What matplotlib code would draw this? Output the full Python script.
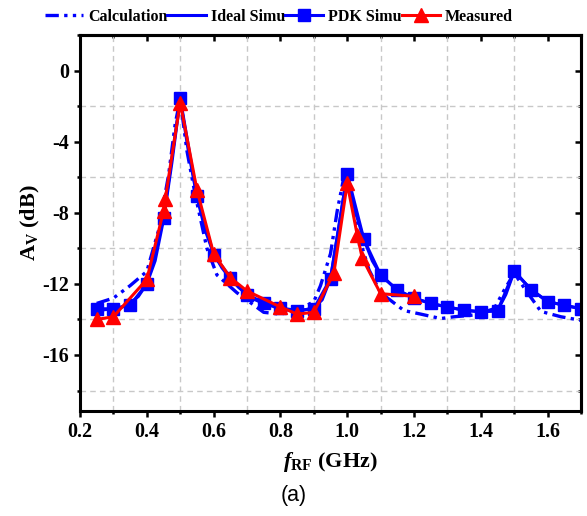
import matplotlib
matplotlib.use('Agg')
import matplotlib.pyplot as plt
from matplotlib.ticker import MultipleLocator

# data
calc_f = [0.25, 0.30, 0.35, 0.40, 0.435, 0.465, 0.485, 0.50, 0.52, 0.545, 0.58, 0.61, 0.67,
          0.75, 0.80, 0.85, 0.90, 0.92, 0.95, 0.97, 0.99, 1.00, 1.035, 1.065, 1.10, 1.17,
          1.22, 1.28, 1.32, 1.38, 1.44, 1.47, 1.50, 1.54, 1.58, 1.64, 1.70]
calc_av = [-13.1, -12.8, -12.1, -11.3, -9.0, -5.9, -3.0, -1.6, -4.5, -7.0, -10.0, -11.5, -12.5,
           -13.6, -13.7, -13.5, -13.0, -12.1, -10.3, -7.9, -6.0, -5.8, -9.35, -11.2, -12.5, -13.5,
           -13.7, -13.95, -13.85, -13.75, -13.4, -12.35, -11.4, -12.5, -13.55, -13.85, -14.05]

ideal_f = [0.25, 0.275, 0.30, 0.325, 0.35, 0.375, 0.40, 0.425, 0.45, 0.475, 0.50, 0.525, 0.55,
           0.575, 0.60, 0.625, 0.65, 0.675, 0.70, 0.725, 0.75, 0.80, 0.85, 0.90, 0.925, 0.95,
           0.975, 1.00, 1.025, 1.05, 1.075, 1.10, 1.15, 1.20, 1.25, 1.30, 1.35, 1.40, 1.45,
           1.475, 1.50, 1.525, 1.55, 1.60, 1.65, 1.70]
ideal_av = [-13.5, -13.45, -13.4, -13.3, -13.1, -12.7, -12.0, -10.7, -8.4, -5.2, -1.6, -4.6, -7.1,
            -9.0, -10.3, -11.1, -11.7, -12.2, -12.6, -12.9, -13.1, -13.4, -13.55, -13.35, -12.9, -11.7,
            -8.8, -5.8, -8.0, -9.5, -10.7, -11.5, -12.35, -12.8, -13.1, -13.3, -13.48, -13.57, -13.5,
            -12.6, -11.3, -11.8, -12.3, -13.0, -13.2, -13.4]

pdk_f = [0.25, 0.30, 0.35, 0.40, 0.45, 0.50, 0.55, 0.60, 0.65, 0.70, 0.75, 0.80, 0.85, 0.90,
         0.95, 1.00, 1.05, 1.10, 1.15, 1.20, 1.25, 1.30, 1.35, 1.40, 1.45, 1.50, 1.55, 1.60,
         1.65, 1.70]
pdk_av = [-13.4, -13.4, -13.2, -12.0, -8.3, -1.55, -7.05, -10.35, -11.65, -12.6, -13.05, -13.35,
          -13.5, -13.4, -11.7, -5.8, -9.5, -11.5, -12.35, -12.8, -13.1, -13.3, -13.48, -13.57,
          -13.52, -11.28, -12.32, -13.0, -13.2, -13.4]

meas_f = [0.25, 0.30, 0.40, 0.45, 0.455, 0.50, 0.55, 0.60, 0.65, 0.70, 0.80, 0.85, 0.90,
          0.96, 1.00, 1.03, 1.045, 1.10, 1.20]
meas_av = [-14.0, -13.85, -11.75, -7.9, -7.25, -1.8, -6.7, -10.3, -11.65, -12.4, -13.3, -13.7,
           -13.6, -11.4, -6.35, -9.25, -10.55, -12.55, -12.7]

plt.rcParams['font.family'] = 'Liberation Serif'
plt.rcParams['font.weight'] = 'bold'
plt.rcParams['axes.unicode_minus'] = False
plt.rcParams['mathtext.fontset'] = 'custom'
plt.rcParams['mathtext.rm'] = 'Liberation Serif:bold'
plt.rcParams['mathtext.it'] = 'Liberation Serif:bold:italic'
plt.rcParams['mathtext.bf'] = 'Liberation Serif:bold'

fig = plt.figure(figsize=(5.87, 5.16), dpi=100)
ax = fig.add_axes([0.1363, 0.2035, 0.8535, 0.7287])

ax.plot(calc_f, calc_av, color='blue', lw=2.4, linestyle=(0, (4, 1.6, 1, 1.6, 1, 1.6)),
        label='Calculation')
ax.plot(ideal_f, ideal_av, color='blue', lw=2.2, label='Ideal Simu')
ax.plot(pdk_f, pdk_av, color='blue', lw=2.2, marker='s', ms=8, label='PDK Simu')
ax.plot(meas_f, meas_av, color='red', lw=2.2, marker='^', ms=9.5, label='Measured')

ax.set_xlim(0.2, 1.7)
ax.set_ylim(-19.15, 2.0)
ax.xaxis.set_major_locator(MultipleLocator(0.2))
ax.xaxis.set_minor_locator(MultipleLocator(0.1))
ax.yaxis.set_major_locator(MultipleLocator(4))
ax.yaxis.set_minor_locator(MultipleLocator(2))
ax.grid(which='minor', color='#c8c8c8', linestyle=(0, (4, 3)), lw=1.0)

ax.tick_params(which='both', direction='out', width=1.8, labelsize=14.5, pad=4)
ax.tick_params(which='major', length=4)
ax.tick_params(which='minor', length=2.5)
for lab in ax.get_xticklabels() + ax.get_yticklabels():
    lab.set_fontweight('bold')
for s in ax.spines.values():
    s.set_linewidth(2.2)

# inward ticks on top and right
top = ax.secondary_xaxis('top')
top.xaxis.set_major_locator(MultipleLocator(0.2))
top.xaxis.set_minor_locator(MultipleLocator(0.1))
top.tick_params(which='both', direction='in', width=1.8, labeltop=False)
top.tick_params(which='major', length=4)
top.tick_params(which='minor', length=2.5)
top.spines['top'].set_linewidth(2.2)
right = ax.secondary_yaxis('right')
right.yaxis.set_major_locator(MultipleLocator(4))
right.yaxis.set_minor_locator(MultipleLocator(2))
right.tick_params(which='both', direction='in', width=1.8, labelright=False)
right.tick_params(which='major', length=4)
right.tick_params(which='minor', length=2.5)
right.spines['right'].set_linewidth(2.2)

ax.set_xlabel(r'$f$$_{\mathrm{RF}}$ (GHz)', fontsize=16, fontweight='bold', labelpad=6)
ax.set_ylabel(r'A$_{\mathrm{V}}$ (dB)', fontsize=16, fontweight='bold', labelpad=0)

fig.legend(loc='center', bbox_to_anchor=(0.475, 0.968), ncol=4, frameon=False,
           prop={'family': 'Liberation Serif', 'weight': 'bold', 'size': 11.5},
           handlelength=2.4, handletextpad=0.3, columnspacing=0.0, borderaxespad=0)

fig.text(0.5, 0.04, '(a)', ha='center', va='center', fontsize=15.5,
         family='Liberation Sans', fontweight='normal')

fig.savefig('out.png', dpi=100)
